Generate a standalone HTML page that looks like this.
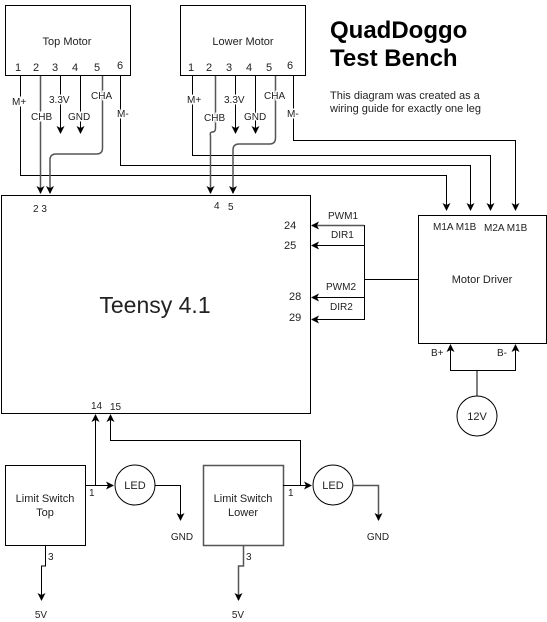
<!DOCTYPE html>
<html><head><meta charset="utf-8"><style>body{margin:0;background:#fff}svg{display:block;font-family:"Liberation Sans",sans-serif}</style></head><body>
<svg width="547" height="622" viewBox="0 0 547 622">
<defs><marker id="a" markerWidth="8" markerHeight="8" refX="7" refY="4" orient="auto" markerUnits="userSpaceOnUse"><path d="M0,0L8,4L0,8L2,4z" fill="#000"/></marker></defs>
<g fill="none" stroke="#000" stroke-width="1">
<rect x="5.5" y="5.5" width="125" height="70"/>
<rect x="180.5" y="5.5" width="125" height="70"/>
<rect x="1.5" y="195.5" width="309" height="218"/>
<rect x="418.5" y="215.5" width="128" height="128"/>
<rect x="5.5" y="465.5" width="80" height="80"/>
<rect x="203.5" y="465.5" width="80" height="80" stroke="#555" stroke-width="1.5"/>
<circle cx="477" cy="416" r="20"/>
<circle cx="135" cy="485" r="20"/>
<circle cx="333" cy="485" r="20"/>
<path d="M20.5,76V175.5H446.5V210" marker-end="url(#a)"/>
<path d="M120.5,76V165.5H470.5V210" marker-end="url(#a)"/>
<path d="M192.5,76V155.5H490.5V210" marker-end="url(#a)"/>
<path d="M293.5,76V140.5H515.5V210" marker-end="url(#a)"/>
<path d="M40.5,76V193" marker-end="url(#a)" stroke="#555" stroke-width="1.5"/>
<path d="M102.5,76V148q0,6-6,6H56q-6,0-6,6V193" marker-end="url(#a)" stroke="#555" stroke-width="1.5"/>
<path d="M215.5,76V128q0,4-3,4t-2,4V193" marker-end="url(#a)" stroke="#555" stroke-width="1.5"/>
<path d="M275.5,76V138q0,6-6,6H239q-6,0-6,6V193" marker-end="url(#a)" stroke="#555" stroke-width="1.5"/>
<path d="M60.5,76V133" marker-end="url(#a)"/>
<path d="M80.5,76V133" marker-end="url(#a)"/>
<path d="M235.5,76V133" marker-end="url(#a)"/>
<path d="M255.5,76V133" marker-end="url(#a)"/>
<path d="M364.5,225V320"/>
<path d="M418,279.5H364"/>
<path d="M364,225.5H312" marker-end="url(#a)" stroke="#555" stroke-width="1.5"/>
<path d="M364,245.5H312" marker-end="url(#a)"/>
<path d="M364,297.5H312" marker-end="url(#a)"/>
<path d="M364,319.5H312" marker-end="url(#a)"/>
<path d="M477,396V370.5H450.5V345" marker-end="url(#a)"/>
<path d="M477,370.5H515.5V345" marker-end="url(#a)"/>
<path d="M85,485.5H113" marker-end="url(#a)"/>
<path d="M95.5,485V415" marker-end="url(#a)"/>
<path d="M155,485.5H180.5V520" marker-end="url(#a)"/>
<path d="M283,485.5H311" marker-end="url(#a)"/>
<path d="M300.5,485V440.5H110.5V415" marker-end="url(#a)"/>
<path d="M353,485.5H378.5V520" marker-end="url(#a)" stroke="#555" stroke-width="1.5"/>
<path d="M45.5,546V566H41.5V600" marker-end="url(#a)"/>
<path d="M243.5,546V566H238.5V600" marker-end="url(#a)" stroke="#555" stroke-width="1.5"/>
</g>
<g font-size="11" fill="#222">
<text x="67" y="45" text-anchor="middle">Top Motor</text>
<text x="243" y="45" text-anchor="middle">Lower Motor</text>
<text x="15" y="71">1</text><text x="33" y="71">2</text><text x="52" y="71">3</text><text x="72" y="71">4</text><text x="94" y="71">5</text><text x="117" y="69">6</text>
<text x="188" y="71">1</text><text x="206" y="71">2</text><text x="226" y="71">3</text><text x="246" y="71">4</text><text x="266" y="71">5</text><text x="287" y="69">6</text>
<g font-size="10" style="paint-order:stroke" stroke="#fff" stroke-width="3">
<text x="12" y="105">M+</text><text x="31" y="120">CHB</text><text x="49" y="103">3.3V</text><text x="68" y="120">GND</text><text x="91" y="99">CHA</text><text x="117" y="117">M-</text>
<text x="187" y="103">M+</text><text x="204" y="121">CHB</text><text x="224" y="103">3.3V</text><text x="244" y="120">GND</text><text x="264" y="99">CHA</text><text x="287" y="117">M-</text>
</g>
<text x="33" y="212" font-size="10">2 3</text>
<text x="214" y="209" font-size="10">4</text><text x="228" y="210" font-size="10">5</text>
<text x="155" y="313" text-anchor="middle" font-size="23">Teensy 4.1</text>
<text x="284" y="229">24</text><text x="284" y="249">25</text><text x="289" y="300">28</text><text x="289" y="321">29</text>
<text x="328" y="219" font-size="10">PWM1</text><text x="331" y="238" font-size="10">DIR1</text>
<text x="326" y="290" font-size="10">PWM2</text><text x="330" y="310" font-size="10">DIR2</text>
<text x="433" y="230" font-size="10">M1A M1B</text><text x="484" y="231" font-size="10">M2A M1B</text>
<text x="482" y="283" text-anchor="middle">Motor Driver</text>
<text x="431" y="356" font-size="10">B+</text><text x="497" y="356" font-size="10">B-</text>
<text x="477" y="420" text-anchor="middle">12V</text>
<text x="91" y="409" font-size="10">14</text><text x="110" y="410" font-size="10">15</text>
<text x="45" y="502" text-anchor="middle">Limit Switch</text><text x="45" y="516" text-anchor="middle">Top</text>
<text x="243" y="502" text-anchor="middle">Limit Switch</text><text x="243" y="516" text-anchor="middle">Lower</text>
<text x="89" y="496" font-size="10">1</text><text x="288" y="496" font-size="10">1</text>
<text x="135" y="489" text-anchor="middle">LED</text><text x="333" y="489" text-anchor="middle">LED</text>
<text x="182" y="540" text-anchor="middle" font-size="10">GND</text><text x="378" y="540" text-anchor="middle" font-size="10">GND</text>
<text x="48" y="560" font-size="10">3</text><text x="246" y="560" font-size="10">3</text>
<text x="41" y="618" text-anchor="middle" font-size="10">5V</text><text x="238" y="618" text-anchor="middle" font-size="10">5V</text>
<text x="330" y="38" font-size="24" font-weight="bold" fill="#000">QuadDoggo</text>
<text x="330" y="66" font-size="24" font-weight="bold" fill="#000">Test Bench</text>
<text x="330" y="99" font-size="11">This diagram was created as a</text>
<text x="330" y="112" font-size="11">wiring guide for exactly one leg</text>
</g>
</svg>
</body></html>
